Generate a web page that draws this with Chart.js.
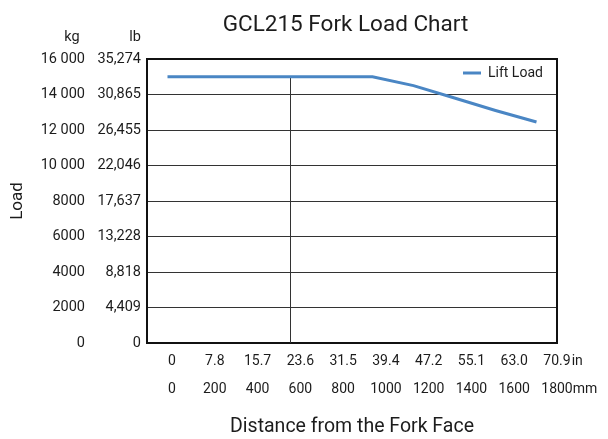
<!DOCTYPE html>
<html><head><meta charset="utf-8">
<script src="https://cdn.jsdelivr.net/npm/chart.js@4.4.1/dist/chart.umd.min.js"></script>
<style>html,body{margin:0;padding:0;background:#fff}</style>
</head><body>
<canvas id="c" width="608" height="439"></canvas>
<script>
// ---- data ----
const distanceMm = [0, 200, 400, 600, 800, 1000, 1200, 1400, 1600, 1800];
const liftLoadKg = [15000, 15000, 15000, 15000, 15000, 15000, 14500, 13800, 13100, 12450];
const loadCenterMm = 600;
const loadCenterKg = [0, 15000];
const tickMm = [0, 200, 400, 600, 800, 1000, 1200, 1400, 1600, 1800];
const tickIn = ['0', '7.8', '15.7', '23.6', '31.5', '39.4', '47.2', '55.1', '63.0', '70.9'];
const kgLabels = ['0', '2000', '4000', '6000', '8000', '10 000', '12 000', '14 000', '16 000'];
const lbLabels = ['0', '4,409', '8,818', '13,228', '17,637', '22,046', '26,455', '30,865', '35,274'];

const FONT = 'Roboto, "Open Sans", sans-serif';
const TXT = '#1c1c1c';
const BLUE = '#4a86c4';
Chart.defaults.font.family = FONT;
Chart.defaults.color = TXT;

const decor = {
  id: 'decor',
  afterLayout(chart) {
    const lg = chart.legend, a = chart.chartArea;
    if (lg) {
      const w = lg.width, h = lg.height;
      lg.left = a.right - 101; lg.right = lg.left + w;
      lg.top = a.top; lg.bottom = a.top + h;
    }
    const t = chart.titleBlock;
    if (t) {
      // centre the title over the plot region as in the reference
      t.left = 83; t.right = 608; t.width = t.right - t.left;
    }
  },
  beforeDatasetsDraw(chart) {
    const {ctx, chartArea: a} = chart;
    ctx.save();
    ctx.strokeStyle = '#111';
    ctx.lineWidth = 2;
    ctx.strokeRect(a.left, a.top, a.right - a.left, a.bottom - a.top);
    ctx.restore();
  },
  afterDraw(chart) {
    const ctx = chart.ctx;
    const kg = chart.scales.yKg, lb = chart.scales.yLb, xs = chart.scales.x2;
    ctx.save();
    ctx.fillStyle = TXT;
    ctx.font = '14.5px ' + FONT;
    ctx.textAlign = 'center';
    ctx.textBaseline = 'middle';
    ctx.fillText('kg', kg.right - 18, chart.chartArea.top - 22);
    ctx.fillText('lb', lb.right - 12, chart.chartArea.top - 22);
    // units after the last x tick labels
    ctx.font = '14px ' + FONT;
    ctx.textAlign = 'left';
    const last = tickMm.length - 1;
    const px = xs.getPixelForValue(tickMm[last]);
    const wIn = ctx.measureText(tickIn[last]).width;
    const wMm = ctx.measureText(String(tickMm[last])).width;
    ctx.fillText('in', px + wIn / 2 + 1, xs.top + 4 + 14);
    ctx.fillText('mm', px + wMm / 2, xs.top + 4 + 42);
    ctx.restore();
  }
};

new Chart(document.getElementById('c'), {
  type: 'line',
  data: {
    datasets: [
      {
        label: 'Lift Load',
        data: distanceMm.map((d, i) => ({x: d, y: liftLoadKg[i]})),
        borderColor: BLUE, backgroundColor: BLUE, borderWidth: 3,
        pointRadius: 0, tension: 0, xAxisID: 'x', yAxisID: 'yKg', order: 0
      },
      {
        label: 'Load Center',
        data: loadCenterKg.map(v => ({x: loadCenterMm, y: v})),
        borderColor: '#333', backgroundColor: '#333', borderWidth: 1,
        pointRadius: 0, xAxisID: 'x', yAxisID: 'yKg', order: 1
      }
    ]
  },
  options: {
    responsive: false,
    animation: false,
    devicePixelRatio: 1,
    layout: {padding: {left: 0, right: 51, top: 0, bottom: 0}},
    plugins: {
      title: {
        display: true, text: 'GCL215 Fork Load Chart', color: TXT,
        font: {size: 22.5, weight: 'normal'}, padding: {top: 12, bottom: 20}
      },
      legend: {
        position: 'chartArea', align: 'start',
        labels: {
          filter: item => item.datasetIndex === 0,
          usePointStyle: true, pointStyle: 'line', pointStyleWidth: 18, boxWidth: 18,
          font: {size: 14}, padding: 7, color: TXT
        }
      },
      tooltip: {enabled: false}
    },
    scales: {
      x: {type: 'linear', min: -100, max: 1900, display: false},
      x2: {
        type: 'linear', position: 'bottom', min: -117, max: 1800,
        afterBuildTicks: s => { s.ticks = tickMm.map(v => ({value: v})); },
        ticks: {
          autoSkip: false, maxRotation: 0, padding: 4,
          font: {size: 14, lineHeight: 2}, color: TXT,
          callback: (v, i) => [tickIn[i], String(tickMm[i])]
        },
        grid: {display: false, drawTicks: false},
        border: {display: false},
        title: {display: true, text: 'Distance from the Fork Face', color: TXT,
          font: {size: 19.5, weight: 'normal'}, padding: {top: 8, bottom: 0.6}}
      },
      yKg: {
        type: 'linear', position: 'left', weight: 1, min: 0, max: 16000,
        ticks: {stepSize: 2000, padding: 5, font: {size: 14.5}, color: TXT,
          callback: (v, i) => kgLabels[i]},
        grid: {display: false, drawTicks: false},
        border: {display: false},
        title: {display: true, text: 'Load', color: TXT, font: {size: 17, weight: 'normal'},
          padding: {top: 8, bottom: 0}},
        afterFit: s => { s.width = 90; }
      },
      yLb: {
        type: 'linear', position: 'left', weight: 0, min: 0, max: 16000,
        ticks: {stepSize: 2000, padding: 6, font: {size: 14.5}, color: TXT,
          callback: (v, i) => lbLabels[i]},
        grid: {color: '#333', lineWidth: 1, drawTicks: false},
        border: {display: false},
        afterFit: s => { s.width = 57; }
      }
    }
  },
  plugins: [decor]
});
</script>
</body></html>
